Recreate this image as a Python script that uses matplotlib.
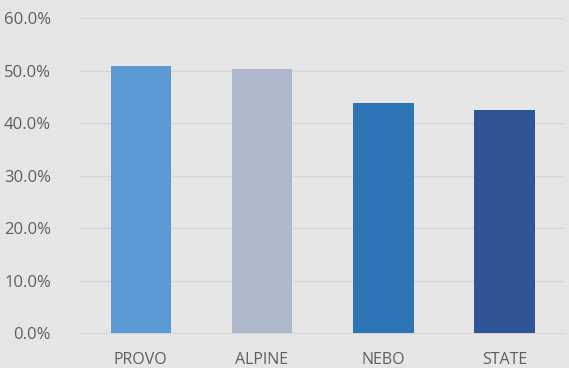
import matplotlib.pyplot as plt
from matplotlib.ticker import PercentFormatter

districts = ["PROVO", "ALPINE", "NEBO", "STATE"]
values = [50.9, 50.3, 43.9, 42.5]
colors = ["#5B9BD5", "#ADB9CA", "#2E75B6", "#2F5597"]

bg = "#E6E6E6"
fig = plt.figure(figsize=(5.69, 3.68), dpi=100, facecolor=bg)
ax = fig.add_axes([0.141, 0.095, 0.852, 0.856], facecolor=bg)

ax.bar(districts, values, width=0.5, color=colors, zorder=3)

ax.set_ylim(0, 60)
ax.set_xlim(-0.5, 3.5)
ax.set_yticks(range(0, 61, 10))
ax.yaxis.set_major_formatter(PercentFormatter(decimals=1))
ax.grid(axis="y", color="#D6D6D6", linewidth=1, zorder=0)
for s in ["top", "right", "left"]:
    ax.spines[s].set_visible(False)
ax.spines["bottom"].set_color("#D6D6D6")
ax.tick_params(length=0, colors="#5F5F5F", labelsize=11.5)
ax.tick_params(axis="y", labelsize=12, pad=21)
ax.tick_params(axis="x", pad=14)
for lbl in ax.get_xticklabels() + ax.get_yticklabels():
    lbl.set_fontfamily("Open Sans")

fig.savefig("out.png", dpi=100, facecolor=bg)
